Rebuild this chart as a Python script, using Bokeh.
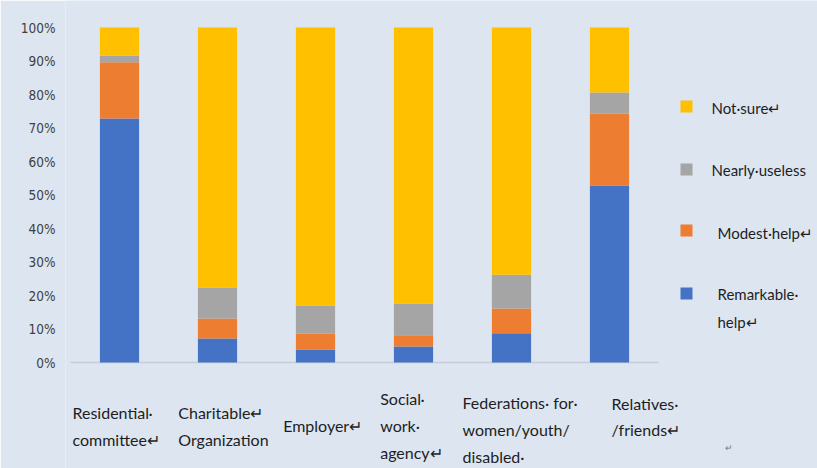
from bokeh.plotting import figure
from bokeh.models import Range1d, FixedTicker, PrintfTickFormatter, ColumnDataSource
from bokeh.core.properties import value
from bokeh.embed import file_html
from bokeh.resources import INLINE

# --- data -------------------------------------------------------------------
categories = ["Residential committee", "Charitable Organization", "Employer",
              "Social work agency", "Federations for women/youth/disabled",
              "Relatives/friends"]
category_labels = ["Residential·\ncommittee↵", "Charitable↵\nOrganization",
                   "Employer↵", "Social·\nwork·\nagency↵",
                   "Federations· for·\nwomen/youth/\ndisabled·",
                   "Relatives·\n/friends↵"]

remarkable_help = [72.8, 7.2, 3.9, 4.8, 8.7, 52.8]
modest_help = [16.8, 5.9, 4.7, 3.3, 7.4, 21.5]
nearly_useless = [2.0, 9.3, 8.4, 9.5, 10.1, 6.3]
not_sure = [8.4, 77.6, 83.0, 82.4, 73.8, 19.4]

series_keys = ["remarkable", "modest", "useless", "notsure"]
legend_labels = ["Remarkable·\nhelp↵", "Modest·help↵", "Nearly·useless", "Not·sure↵"]
series_colors = ["#4472C4", "#ED7D31", "#A5A5A5", "#FFC000"]
y_ticks = [0, 10, 20, 30, 40, 50, 60, 70, 80, 90, 100]

# --- layout -----------------------------------------------------------------
W, H = 817, 468
LEFT = 65                 # pixel where the plotting frame starts
BASE_PX = 362             # pixel row of 0 %
PX_PER_PCT = 3.35
FIRST_PX = 119            # centre of the first bar
STEP_PX = 98              # spacing between bars
BG = "#dde5f1"
TEXT = "#1e1e1e"

def xdata(px):
    return (px - FIRST_PX) / STEP_PX

def ydata(py):
    return (BASE_PX - py) / PX_PER_PCT

p = figure(width=W, height=H, output_backend="svg", toolbar_location=None,
           x_range=Range1d(xdata(LEFT), xdata(W)),
           y_range=Range1d(ydata(H), ydata(0)),
           min_border_left=LEFT, min_border_right=0,
           min_border_top=0, min_border_bottom=0)
p.background_fill_color = BG
p.border_fill_color = BG
p.outline_line_color = None
p.grid.visible = False
p.xaxis.visible = False

yax = p.yaxis[0]
yax.ticker = FixedTicker(ticks=y_ticks)
yax.formatter = PrintfTickFormatter(format="%d%%")
yax.axis_line_color = None
yax.major_tick_line_color = None
yax.minor_tick_line_color = None
yax.major_label_standoff = 4
yax.major_label_text_font = "DejaVu Sans Condensed"
yax.major_label_text_font_size = "13.5px"
yax.major_label_text_color = "#404040"

# baseline under the bars
n = len(categories)
p.segment(x0=[-0.5], y0=[0], x1=[n - 0.5], y1=[0],
          line_color="#c6cdd8", line_width=1.5)

source = ColumnDataSource(dict(
    x=list(range(n)),
    remarkable=remarkable_help,
    modest=modest_help,
    useless=nearly_useless,
    notsure=not_sure,
))
renderers = p.vbar_stack(series_keys, x="x", width=0.4, color=series_colors,
                         line_color=None, source=source)

# category captions below the bars
label_dx = [-0.48, -0.40, -0.33, -0.34, -0.50, 0.02]
label_py = [425.5, 425.5, 425, 425, 429, 416]
p.text(x=[i + d for i, d in enumerate(label_dx)],
       y=[ydata(v) for v in label_py],
       text=category_labels, text_font=value("Lato"),
       text_font_size="16px", text_color=TEXT,
       text_align="left", text_baseline="middle", text_line_height=1.42)

# stray paragraph mark
p.text(x=[xdata(728)], y=[ydata(447)], text=["↵"],
       text_font=value("Lato"), text_font_size="9px", text_color="#777777",
       text_align="center", text_baseline="middle")

# legend: coloured squares with their captions, top item first
key_px = [293, 230, 169, 106]           # square centres, in stack order
text_px = [307.5, 232, 169, 107]        # caption centres
text_x_px = [717, 717, 711, 711]
p.scatter(x=[xdata(686)] * len(series_keys), y=[ydata(v) for v in key_px],
          marker="square", size=12, color=series_colors, line_color=None)
p.text(x=[xdata(v) for v in text_x_px], y=[ydata(v) for v in text_px],
       text=legend_labels, text_font=value("Lato"), text_font_size="15px",
       text_color=TEXT, text_align="left", text_baseline="middle",
       text_line_height=1.6)

open("out.html", "w").write(file_html(p, INLINE))
